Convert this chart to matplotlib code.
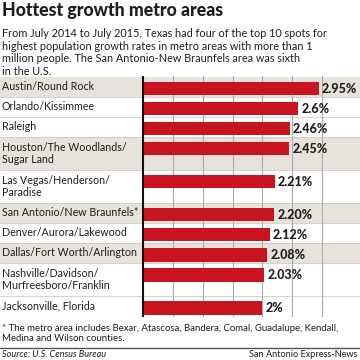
import matplotlib
matplotlib.use("Agg")
import matplotlib.pyplot as plt

# data
metros = ["Austin/Round Rock", "Orlando/Kissimmee", "Raleigh",
          "Houston/The Woodlands/\nSugar Land", "Las Vegas/Henderson/\nParadise",
          "San Antonio/New Braunfels*", "Denver/Aurora/Lakewood",
          "Dallas/Fort Worth/Arlington", "Nashville/Davidson/\nMurfreesboro/Franklin",
          "Jacksonville, Florida"]
growth = [2.95, 2.6, 2.46, 2.45, 2.21, 2.20, 2.12, 2.08, 2.03, 2.0]
growth_labels = ["2.95%", "2.6%", "2.46%", "2.45%", "2.21%", "2.20%",
                 "2.12%", "2.08%", "2.03%", "2%"]
shaded = [True, False, False, True, False, True, False, True, False, False]

title = "Hottest growth metro areas"
subtitle = ("From July 2014 to July 2015, Texas had four of the top 10 spots for\n"
            "highest population growth rates in metro areas with more than 1\n"
            "million people. The San Antonio-New Braunfels area was sixth\n"
            "in the U.S.")
footnote = ("* The metro area includes Bexar, Atascosa, Bandera, Comal, Guadalupe, Kendall,\n"
            "Medina and Wilson counties.")
source = "Source: U.S. Census Bureau"
credit = "San Antonio Express-News"

FONT = "Lato"
RED = "#c8141f"
SHADE = "#e7e3db"
INK = "#1e1e1e"

fig = plt.figure(figsize=(3.6, 3.6), dpi=100)
fig.patch.set_facecolor("white")

# chart axes spans full width, y in pixel-like units from top of table
top_px, bot_px = 76, 318
ax = fig.add_axes([0, 1 - bot_px / 360, 1, (bot_px - top_px) / 360])
px_per_unit = 59.7
zero_px = 143
ax.set_xlim(-zero_px / px_per_unit, (360 - zero_px) / px_per_unit)
ax.set_ylim(bot_px - top_px, 0)
ax.axis("off")

# row layout: single line rows 20, two line rows 33
row_h = [33 if "\n" in m else 20 for m in metros]
y = 1
for i, m in enumerate(metros):
    h = row_h[i]
    if shaded[i]:
        ax.axhspan(y, y + h, color=SHADE, zorder=0, lw=0)
    if i > 0:
        ax.axhline(y, color="#cfcbc3", lw=0.6, zorder=0.5)
    ax.barh(y + 5, growth[i], height=13.5, align="edge", color=RED, zorder=2)
    ax.text(growth[i] + 0.05, y + 5 + 6.75, growth_labels[i], ha="left", va="center",
            fontsize=9, fontweight="black", color=INK, family=FONT, zorder=3)
    ax.text(ax.get_xlim()[0] + 0.03, y + h / 2, m, ha="left", va="center",
            fontsize=7.7, color=INK, family=FONT, linespacing=1.05, zorder=3)
    y += h

for g in [0.5, 1.0, 1.5, 2.0, 2.5, 3.0]:
    ax.plot([g, g], [0, y], color="#aaaaaa", lw=0.8, zorder=1)
ax.plot([0, 0], [0, y], color="#111111", lw=1.5, zorder=4)

fig.text(0.006, 0.970, title, fontsize=12.8, fontweight="black", family=FONT,
         color=INK, va="center", ha="left")
fig.text(0.006, 0.922, subtitle, fontsize=7.8, family=FONT, color=INK,
         va="top", ha="left", linespacing=1.18)
fig.text(0.006, 0.074, footnote, fontsize=6.9, family=FONT, color=INK,
         va="center", ha="left", linespacing=1.2)
fig.add_artist(plt.Line2D([0, 1], [0.033, 0.033], color="#555555", lw=1))
fig.text(0.006, 0.014, source, fontsize=6.6, family=FONT, style="italic",
         color=INK, va="center", ha="left")
fig.text(0.992, 0.014, credit, fontsize=6.6, family=FONT, color=INK,
         va="center", ha="right")

fig.savefig("out.png", dpi=100)
